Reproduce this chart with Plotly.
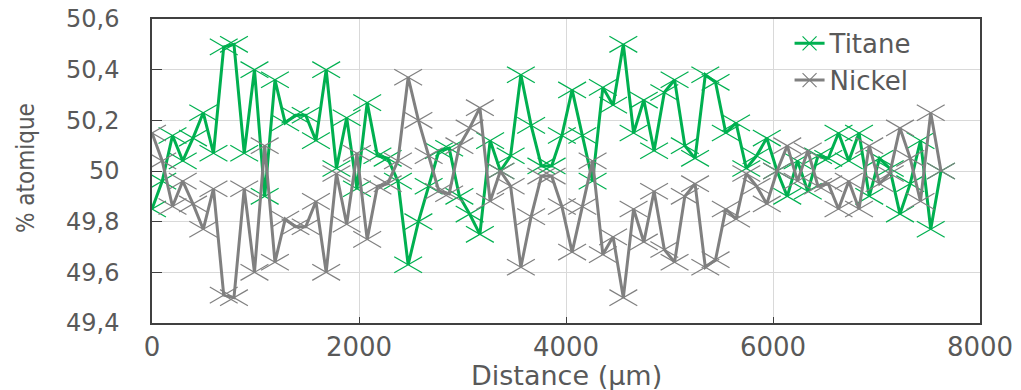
import plotly.graph_objects as go

distance_um = [0, 99, 198, 297, 396, 495, 594, 693, 792, 891, 990, 1089, 1188, 1287, 1386, 1485,
               1584, 1683, 1782, 1881, 1980, 2079, 2178, 2277, 2376, 2475, 2574, 2673, 2772, 2871,
               2970, 3069, 3168, 3267, 3366, 3465, 3564, 3663, 3762, 3861, 3960, 4059, 4158, 4257,
               4356, 4455, 4554, 4653, 4752, 4851, 4950, 5049, 5148, 5247, 5346, 5445, 5544, 5643,
               5742, 5841, 5940, 6039, 6138, 6237, 6336, 6435, 6534, 6633, 6732, 6831, 6930, 7029,
               7128, 7227, 7326, 7425, 7524, 7623]

titane = [49.85, 49.96, 50.14, 50.04, 50.13, 50.23, 50.07, 50.49, 50.50, 50.07, 50.40, 49.90,
          50.36, 50.19, 50.22, 50.22, 50.12, 50.40, 50.01, 50.21, 49.93, 50.27, 50.06, 50.05,
          49.96, 49.63, 49.80, 49.94, 50.08, 50.09, 49.90, 49.83, 49.75, 50.12, 50.00, 50.06,
          50.38, 50.18, 50.02, 50.02, 50.14, 50.32, 50.14, 49.96, 50.33, 50.26, 50.50, 50.15,
          50.28, 50.08, 50.31, 50.36, 50.10, 50.05, 50.38, 50.35, 50.15, 50.19, 50.01, 50.06,
          50.13, 50.00, 49.90, 50.04, 49.92, 50.06, 50.05, 50.15, 50.04, 50.15, 49.90, 50.05,
          50.01, 49.83, 49.95, 50.12, 49.77, 50.00]

nickel = [50.15, 50.04, 49.86, 49.96, 49.87, 49.77, 49.93, 49.51, 49.50, 49.93, 49.60, 50.10,
          49.64, 49.81, 49.78, 49.78, 49.88, 49.60, 49.99, 49.79, 50.07, 49.73, 49.94, 49.95,
          50.04, 50.37, 50.20, 50.06, 49.92, 49.91, 50.10, 50.17, 50.25, 49.88, 50.00, 49.94,
          49.62, 49.82, 49.98, 49.98, 49.86, 49.68, 49.86, 50.04, 49.67, 49.74, 49.50, 49.85,
          49.72, 49.92, 49.69, 49.64, 49.90, 49.95, 49.62, 49.65, 49.85, 49.81, 49.99, 49.94,
          49.87, 50.00, 50.10, 49.96, 50.08, 49.94, 49.95, 49.85, 49.96, 49.85, 50.10, 49.95,
          49.99, 50.17, 50.05, 49.88, 50.23, 50.00]

series_names = ["Titane", "Nickel"]
series_colors = ["#00B050", "#808080"]
x_title = "Distance (µm)"
y_title = "% atomique"
x_tickvals = [0, 2000, 4000, 6000, 8000]
y_tickvals = [49.4, 49.6, 49.8, 50.0, 50.2, 50.4, 50.6]
y_ticktext = ["49,4", "49,6", "49,8", "50", "50,2", "50,4", "50,6"]

FONT = "DejaVu Sans"
TXT = "#595959"

fig = go.Figure()

for name, vals, col in zip(series_names, [titane, nickel], series_colors):
    # line + one arm of the stretched X marker
    fig.add_trace(go.Scatter(
        x=distance_um, y=vals, mode="lines+markers", name=name, showlegend=False,
        line=dict(color=col, width=3),
        marker=dict(symbol="line-ew", size=23, angle=30, color=col,
                    line=dict(color=col, width=1.2)),
    ))
    # second arm of the X marker
    fig.add_trace(go.Scatter(
        x=distance_um, y=vals, mode="markers", showlegend=False, hoverinfo="skip",
        marker=dict(symbol="line-ew", size=23, angle=-30, color=col,
                    line=dict(color=col, width=1.2)),
    ))

# legend entries
for name, col in zip(series_names, series_colors):
    fig.add_trace(go.Scatter(
        x=[None], y=[None], mode="lines+markers", name=name,
        line=dict(color=col, width=3),
        marker=dict(symbol="x-thin", size=14, color=col, line=dict(color=col, width=1.2)),
    ))

fig.update_layout(
    width=1021, height=390,
    margin=dict(l=152, r=41, t=19, b=67),
    paper_bgcolor="white", plot_bgcolor="white",
    separators=", ",
    font=dict(family=FONT, color=TXT, size=22),
    legend=dict(x=0.77, y=0.997, xanchor="left", yanchor="top",
                bgcolor="rgba(0,0,0,0)", font=dict(size=26, color=TXT),
                tracegroupgap=0, itemwidth=30),
    shapes=[dict(type="rect", xref="paper", yref="paper",
                 x0=0.7307, x1=0.9722, y0=0.75, y1=0.98,
                 fillcolor="white", line=dict(width=0), layer="between")],
    annotations=[
        dict(text=x_title, xref="paper", yref="paper", x=0.5, y=-0.172,
             xanchor="center", yanchor="middle", showarrow=False,
             font=dict(size=27, color=TXT, family=FONT)),
        dict(text=y_title, xref="paper", yref="paper", x=-0.152, y=0.51,
             xanchor="center", yanchor="middle", showarrow=False, textangle=-90,
             font=dict(size=24, color=TXT, family="DejaVu Sans Condensed, DejaVu Sans")),
    ],
    xaxis=dict(
        range=[0, 8000], tickmode="array", tickvals=x_tickvals, automargin=False,
        showgrid=True, gridcolor="#d9d9d9", gridwidth=1,
        showline=True, linecolor="#404040", linewidth=1.5, mirror=True,
        ticks="inside", ticklen=6, tickcolor="#404040",
        tickfont=dict(size=26, color=TXT), ticklabeloverflow="allow",
        zeroline=False,
    ),
    yaxis=dict(
        range=[49.4, 50.6], tickmode="array", tickvals=y_tickvals, ticktext=y_ticktext,
        automargin=False,
        showgrid=True, gridcolor="#d9d9d9", gridwidth=1,
        showline=True, linecolor="#404040", linewidth=1.5, mirror=True,
        ticks="inside", ticklen=10, tickcolor="#404040",
        tickfont=dict(size=24, color=TXT), ticklabeloverflow="allow",
        ticklabelstandoff=26,
        zeroline=False,
    ),
)

fig.write_html("out.html", config={"displayModeBar": False},
               post_script="document.body.style.margin='0';document.body.style.overflow='hidden';")
